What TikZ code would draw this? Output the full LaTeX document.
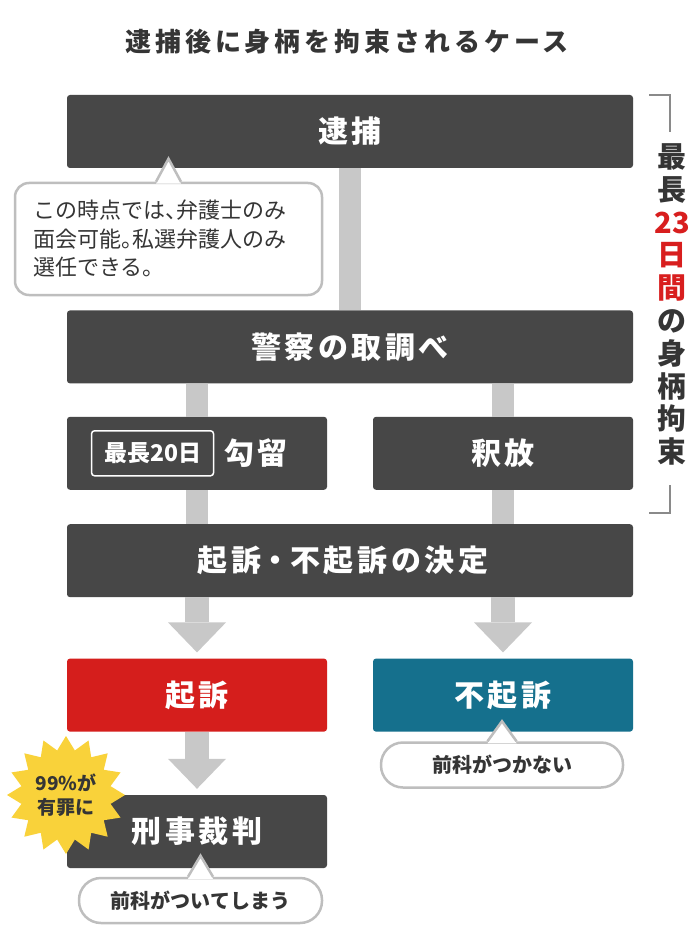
\documentclass[tikz,border=0pt]{standalone}
\usepackage{fontspec}
\setmainfont{Noto Sans CJK JP}
\newfontfamily\jpfont{Noto Sans CJK JP}
\newfontfamily\jpwide{Noto Sans CJK JP}[LetterSpace=12]
\newfontfamily\jptitle{Noto Sans CJK JP}[LetterSpace=15]
\usetikzlibrary{positioning,calc,shapes.geometric}
\definecolor{boxgray}{HTML}{474747}
\definecolor{conncol}{HTML}{C8C8C8}
\definecolor{kisored}{HTML}{D51E1C}
\definecolor{fukisoblue}{HTML}{15708D}
\definecolor{staryellow}{HTML}{F9D23A}
\definecolor{bubbleline}{HTML}{BEBEBE}
\definecolor{textdark}{HTML}{353535}
\definecolor{bracketgray}{HTML}{8A8A8A}
\definecolor{periodred}{HTML}{D81E1E}
\tikzset{
  box/.style={fill=boxgray, rounded corners=3pt, minimum width=566pt,
    minimum height=73pt, inner sep=0pt, text=white,
    font=\jpwide\bfseries\fontsize{30}{36}\selectfont},
  halfbox/.style={box, minimum width=260pt},
  conn/.style={draw=conncol, line width=22pt},
  bubble/.style={draw=bubbleline, line width=2.5pt, fill=white, rounded corners=14pt},
  pill/.style={bubble, rounded corners=22pt, minimum width=242pt, minimum height=45pt,
    inner sep=0pt, text=textdark, font=\jpfont\bfseries\fontsize{20}{24}\selectfont},
  limittag/.style={draw=white, line width=1.5pt, rounded corners=3pt, minimum width=122pt,
    minimum height=45pt, inner sep=0pt, text=white,
    font=\jpfont\bfseries\fontsize{23}{26}\selectfont},
  bracket/.style={draw=bracketgray, line width=2pt},
}
% half-width punctuation
\newcommand{\hpunct}[1]{{\addfontfeatures{RawFeature=+halt}#1}}
% block arrow: #1 start, #2 target node
\newcommand{\bigarrow}[2]{%
  \draw[conn, line width=24pt] (#1) -- ($(#2.north)+(0,-36)$);
  \fill[conncol] ($(#2.north)+(-29,-36)$) -- ($(#2.north)+(29,-36)$)
    -- ($(#2.north)+(0,-6)$) -- cycle;}
% callout tip: #1 apex, #2 base centre, #3 half width
\newcommand{\bubbletip}[3]{%
  \fill[white] ($(#2)+(-#3,2)$) -- (#1) -- ($(#2)+(#3,2)$) -- cycle;
  \draw[bubbleline, line width=2.5pt] ($(#2)+(-#3,0)$) -- (#1) -- ($(#2)+(#3,0)$);}

\begin{document}
\begin{tikzpicture}[x=1pt,y=-1pt]

  \fill[white] (0,0) rectangle (700,944);
  \useasboundingbox (0,0) rectangle (700,944);

  % Title
  \node[font=\jptitle\bfseries\fontsize{26}{30}\selectfont, text=textdark] (title)
    at (347,42) {逮捕後に身柄を拘束されるケース};

  % Nodes
  \node[box] (taiho) at (350,131.5) {逮捕};
  \node[box, below=142pt of taiho] (keisatsu) {警察の取調べ};
  \node[halfbox, align=right, text width=182pt, inner xsep=39pt,
    below right=33pt and 0pt of keisatsu.south west] (koryu) {勾留};
  \node[halfbox, below left=33pt and 0pt of keisatsu.south east] (shakuho) {釈放};
  \node[box, below right=34pt and 0pt of koryu.south west] (kettei)
    {\hspace{-14pt}起訴\hspace{7pt}\hpunct{・}\hspace{7pt}不起訴の決定};
  \node[halfbox, fill=kisored, below right=61pt and 0pt of kettei.south west] (kiso) {起訴};
  \node[halfbox, fill=fukisoblue, below left=61pt and 0pt of kettei.south east] (fukiso) {不起訴};
  \node[halfbox, below=63pt of kiso] (keiji) {刑事裁判};
  \node[limittag, right=24pt of koryu.west] (limit) {最長20日};

  % Edges
  \draw[conn] (taiho) -- (keisatsu);
  \draw[conn] (keisatsu.south -| koryu) -- (koryu);
  \draw[conn] (keisatsu.south -| shakuho) -- (shakuho);
  \draw[conn] (koryu) -- (koryu |- kettei.north);
  \draw[conn] (shakuho) -- (shakuho |- kettei.north);
  \bigarrow{kettei.south -| kiso}{kiso}
  \bigarrow{kettei.south -| fukiso}{fukiso}
  \bigarrow{kiso.south}{keiji}

  % Callouts
  \node[bubble, text width=271pt, inner xsep=18pt, minimum height=112pt, align=left,
    text=textdark, font=\jpfont\fontsize{22}{28.5}\selectfont] (note1) at (168.5,239)
    {この時点では\hpunct{、}弁護士のみ\\面会可能\hpunct{。}私選弁護人のみ\\選任できる\hpunct{。}};
  \bubbletip{$(note1.north)+(0,-23)$}{note1.north}{12.5}
  \node[pill] (note2) at (502,765) {前科がつかない};
  \bubbletip{$(note2.north)+(0,-20)$}{note2.north}{14.5}
  \node[pill, minimum width=243pt] (note3) at (200.5,900.5) {前科がついてしまう};
  \bubbletip{$(note3.north)+(0,-21)$}{note3.north}{12.5}

  % Starburst
  \node[star, star points=16, star point ratio=1.3, minimum size=118pt, fill=staryellow,
    inner sep=0pt, text=textdark, align=center,
    font=\jpfont\bfseries\fontsize{19}{24}\selectfont] (guilty) at (66,795)
    {99\%が\\有罪に};

  % Period
  \node[align=center, inner sep=0pt, text=textdark,
    font=\jpfont\bfseries\fontsize{29}{32.8}\selectfont] (period) at (672,304.5)
    {最\\長\\\textcolor{periodred}{23}\\\textcolor{periodred}{日}\\\textcolor{periodred}{間}\\の\\身\\柄\\拘\\束};
  \draw[bracket] (649,95) -- (670,95) -- (670,132);
  \draw[bracket] (670,485) -- (670,513) -- (649,513);

\end{tikzpicture}
\end{document}
